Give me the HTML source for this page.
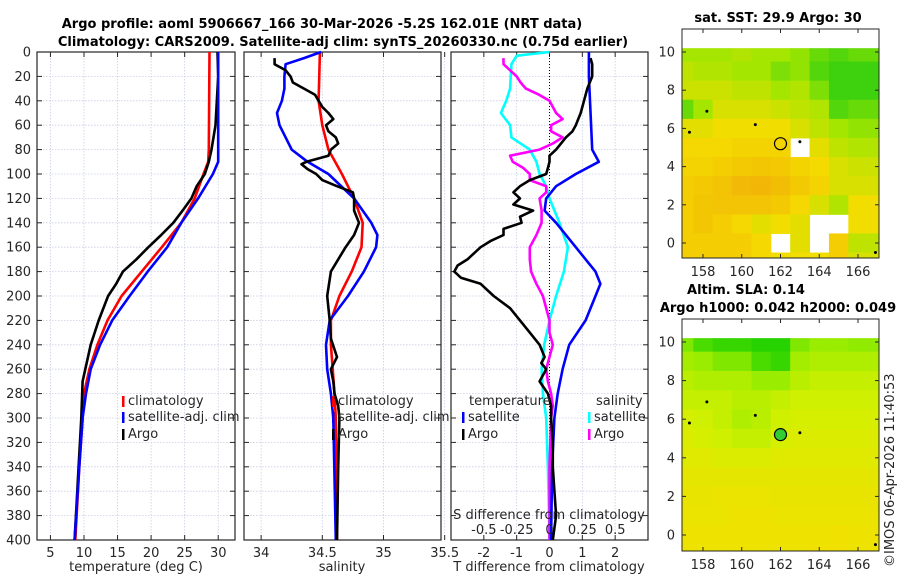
<!DOCTYPE html>
<html><head><meta charset="utf-8">
<style>
body{margin:0;background:#fff;}
svg{display:block;font-family:"DejaVu Sans","Liberation Sans",sans-serif;}
.t{font-size:13px;fill:#262626;}
.b{font-size:13px;font-weight:bold;fill:#000;}
</style></head>
<body>
<svg id="fig" width="900" height="580" viewBox="0 0 900 580" xmlns="http://www.w3.org/2000/svg">
<text class="b" x="322" y="28" text-anchor="middle">Argo profile: aoml 5906667_166 30-Mar-2026 -5.2S 162.01E (NRT data)</text>
<text class="b" x="343" y="46" text-anchor="middle">Climatology: CARS2009. Satellite-adj clim: synTS_20260330.nc (0.75d earlier)</text>
<text class="b" x="778" y="22" text-anchor="middle">sat. SST: 29.9 Argo: 30</text>
<text class="b" x="746" y="294" text-anchor="middle">Altim. SLA: 0.14</text>
<text class="b" x="778" y="312" text-anchor="middle">Argo h1000: 0.042 h2000: 0.049</text>
<text class="t" transform="translate(894,567) rotate(-90)">©IMOS 06-Apr-2026 11:40:53</text>
<g id="plots"></g>
</svg>
<script>
// ---- data ----
const tDepth=[0,80,90,100,120,140,160,180,200,220,240,260,280,300,340,400];
const tClim=[28.7,28.6,28.5,27.8,26.5,24.5,21.6,18.6,15.6,13.5,12,10.8,10,9.8,9.3,8.7];
const tSatDepth=[0,90,100,120,140,160,180,200,220,240,260,280,300,340,400];
const tSat=[30,30,29.2,27,24.5,22.4,19.5,16.8,14.2,12.4,11,10.3,9.8,9.3,8.6];
const tArgoDepth=[0,20,60,80,90,100,110,120,130,140,150,160,170,180,190,200,220,240,260,270,300,340,400];
const tArgo=[29.9,30,29.6,29.0,28.6,28,26.8,26,24.7,23.3,21.5,19.6,17.8,15.8,14.8,13.6,12.2,11,10.2,9.8,9.6,9.2,8.6];
const sClimDepth=[0,40,60,80,100,120,140,160,180,200,220,240,280,300,400];
const sClim=[34.48,34.47,34.5,34.55,34.66,34.76,34.83,34.82,34.74,34.64,34.57,34.57,34.6,34.61,34.62];
const sSatDepth=[0,5,10,20,30,40,50,60,80,90,100,120,140,150,160,180,200,220,240,260,280,300,400];
const sSat=[34.49,34.35,34.2,34.19,34.19,34.17,34.13,34.15,34.25,34.38,34.55,34.76,34.9,34.95,34.94,34.84,34.71,34.56,34.53,34.54,34.57,34.59,34.61];
const sArgoDepth=[5,10,15,20,25,30,35,40,45,50,55,60,65,70,75,80,85,90,92,96,100,105,110,115,120,125,130,140,150,160,170,180,200,220,235,250,260,270,280,290,300,340,400];
const sArgo=[34.11,34.11,34.2,34.24,34.26,34.35,34.44,34.47,34.5,34.55,34.59,34.53,34.55,34.61,34.63,34.57,34.55,34.37,34.33,34.38,34.45,34.5,34.62,34.75,34.76,34.76,34.76,34.8,34.76,34.69,34.63,34.57,34.54,34.56,34.57,34.62,34.57,34.59,34.6,34.63,34.64,34.63,34.62];
const dtSatDepth=[0,20,80,90,100,110,120,130,140,160,180,190,200,220,240,260,280,300,340,400];
const dtSat=[1.2,1.2,1.3,1.5,0.8,0.2,-0.1,-0.15,0.2,0.8,1.4,1.55,1.4,1.1,0.6,0.4,0.25,0.15,0.08,0.05];
const dtArgoDepth=[5,10,20,30,40,50,60,65,70,80,85,90,95,100,105,110,115,120,125,130,135,140,145,150,155,160,165,170,175,180,185,190,200,210,220,230,240,250,255,260,270,280,290,300,320,340,360,380,400];
const dtArgo=[1.25,1.3,1.3,1.15,1.05,0.95,0.8,0.7,0.5,0.2,0,0,-0.05,-0.1,-0.6,-0.9,-1.1,-0.9,-1.1,-0.5,-0.9,-0.85,-1.4,-1.4,-1.8,-2.1,-2.3,-2.5,-2.8,-2.9,-2.7,-2.1,-1.7,-1.2,-0.9,-0.6,-0.3,-0.15,-0.25,-0.1,-0.3,-0.05,0.05,0.05,0.1,0.1,0.15,0.2,0.1];
const dsSatDepth=[0,3,10,30,40,50,60,70,80,90,100,110,120,140,160,180,200,220,240,260,280,300,340,400];
const dsSat=[0,-0.25,-0.29,-0.3,-0.33,-0.37,-0.3,-0.29,-0.15,-0.1,-0.075,-0.025,0,0.075,0.14,0.11,0.05,0,-0.04,-0.06,-0.05,-0.025,-0.012,0];
const dsArgoDepth=[5,10,15,20,25,30,35,40,45,50,55,60,65,70,75,80,85,90,95,100,105,110,115,120,130,140,150,160,170,180,190,200,220,230,240,250,260,270,280,290,300,340,400];
const dsArgo=[-0.35,-0.35,-0.3,-0.25,-0.22,-0.18,-0.08,0,0.025,0.05,0.1,0.012,0.012,0.1,0.025,-0.075,-0.3,-0.28,-0.2,-0.15,-0.15,-0.025,-0.025,-0.075,-0.06,-0.06,-0.1,-0.15,-0.15,-0.14,-0.1,-0.05,0,0,0.025,0,-0.025,-0.012,0.012,0.025,0.012,0,0];
const depthTicks=[0,20,40,60,80,100,120,140,160,180,200,220,240,260,280,300,320,340,360,380,400];
const tTicks=[5,10,15,20,25,30];
const sTicks=[34,34.5,35,35.5];
const sTickLabels=["34","34.5","35","35.5"];
const dTicks=[-2,-1,0,1,2];
const dsTicks=[-0.5,-0.25,0,0.25,0.5];
const dsTickLabels=["-0.5","-0.25","0","0.25","0.5"];
// map data (lat rows 10 -> -1, lon cols 157..166); -1 = missing
const mapLons=[157,158,159,160,161,162,163,164,165,166];
const mapLats=[10,9,8,7,6,5,4,3,2,1,0,-1];
const sstGrid=[
[0.35,0.35,0.35,0.4,0.35,0.35,0.3,0.2,0.15,0.2],
[0.45,0.4,0.4,0.35,0.35,0.25,0.3,0.15,0.1,0.1],
[0.5,0.5,0.5,0.45,0.45,0.35,0.4,0.25,0.1,0.1],
[0.2,0.35,0.55,0.55,0.55,0.5,0.45,0.4,0.15,0.2],
[0.6,0.6,0.65,0.65,0.65,0.65,0.55,0.45,0.35,0.3],
[0.7,0.7,0.7,0.72,0.72,0.72,-1,0.6,0.45,0.4],
[0.72,0.72,0.75,0.78,0.8,0.78,0.72,0.68,0.55,0.5],
[0.75,0.78,0.82,0.88,0.9,0.85,0.78,0.72,0.55,0.55],
[0.75,0.8,0.82,0.82,0.82,0.78,0.7,0.55,0.4,0.65],
[0.75,0.8,0.75,0.7,0.6,0.65,0.6,-1,-1,0.65],
[0.75,0.75,0.75,0.75,0.7,-1,0.6,-1,0.75,0.45],
[0.75,0.75,0.75,0.75,0.7,0.65,0.65,0.65,0.75,0.55]];
const slaGrid=[
[0.3,0.15,0.1,0.1,0.05,0.05,0.3,0.4,0.4,0.35],
[0.45,0.4,0.3,0.3,0.15,0.1,0.45,0.5,0.5,0.5],
[0.55,0.5,0.5,0.5,0.4,0.4,0.55,0.6,0.6,0.6],
[0.6,0.6,0.6,0.55,0.55,0.6,0.65,0.65,0.65,0.65],
[0.7,0.65,0.6,0.5,0.55,0.65,0.7,0.7,0.7,0.7],
[0.75,0.7,0.65,0.6,0.6,0.7,0.75,0.75,0.75,0.75],
[0.8,0.8,0.75,0.75,0.75,0.8,0.8,0.8,0.8,0.8],
[0.85,0.85,0.85,0.85,0.85,0.85,0.85,0.85,0.85,0.85],
[0.88,0.88,0.9,0.9,0.9,0.88,0.88,0.88,0.88,0.88],
[0.9,0.9,0.9,0.92,0.92,0.9,0.9,0.9,0.9,0.9],
[0.92,0.92,0.92,0.92,0.92,0.92,0.92,0.92,0.95,0.92],
[0.92,0.92,0.92,0.92,0.92,0.92,0.92,0.95,0.95,0.92]];
const mapXTicks=[158,160,162,164,166];
const mapYTicks=[0,2,4,6,8,10];
const argoLon=162.0, argoLat=5.2;

const NS='http://www.w3.org/2000/svg';
const root=document.getElementById('plots');
function el(tag,attrs,parent,txt){const e=document.createElementNS(NS,tag);for(const k in attrs)e.setAttribute(k,attrs[k]);if(txt!==undefined)e.textContent=txt;(parent||root).appendChild(e);return e;}
const Y0=52,Y1=540;
const yD=d=>Y0+(d/400)*(Y1-Y0);

function panel(name,x0,x1,dom,ticks,labels){
  const g=el('g',{});
  
  
  const xs=v=>x0+(v-dom[0])/(dom[1]-dom[0])*(x1-x0);
  ticks.forEach(v=>{const l=el('line',{x1:xs(v),x2:xs(v),y1:Y0,y2:Y1,stroke:'#c9cde6','stroke-width':0.8,'stroke-dasharray':'1.5,1.5'},g);
    });
  depthTicks.forEach(d=>{const l=el('line',{x1:x0,x2:x1,y1:yD(d),y2:yD(d),stroke:'#c9cde6','stroke-width':0.8,'stroke-dasharray':'1.5,1.5'},g);
    
    el('line',{x1:x0,x2:x0+5,y1:yD(d),y2:yD(d),stroke:'#262626'},g);el('line',{x1:x1,x2:x1-5,y1:yD(d),y2:yD(d),stroke:'#262626'},g);});
  ticks.forEach((v,i)=>{el('line',{x1:xs(v),x2:xs(v),y1:Y1,y2:Y1-5,stroke:'#262626'},g);el('line',{x1:xs(v),x2:xs(v),y1:Y0,y2:Y0+5,stroke:'#262626'},g);
    if(labels){const t=el('text',{x:xs(v),y:Y1+17,class:'t','text-anchor':'middle'},g,labels[i]);
    }});
  const b=el('rect',{x:x0,y:Y0,width:x1-x0,height:Y1-Y0,fill:'none',stroke:'#262626','stroke-width':1.2},g);
  
  return {g,xs};
}
function line(p,xsF,vals,depths,color,name){
  const pts=vals.map((v,i)=>xsF(v).toFixed(1)+','+yD(depths[i]).toFixed(1)).join(' ');
  const l=el('polyline',{points:pts,fill:'none',stroke:color,'stroke-width':2.6,'stroke-linejoin':'round'},p.g);
  
  
}
function legendEntry(g,x,y,color,txt){
  const m=el('rect',{x:x,y:y-9,width:2.5,height:11,fill:color},g);
  
  const t=el('text',{x:x+6,y:y,class:'t'},g,txt);
  
}
depthTicks.forEach(d=>{const t=el('text',{x:31,y:yD(d)+4.5,class:'t','text-anchor':'end'},root,String(d));
  });

const p1=panel('temperature-panel',37,235,[3,32.5],tTicks,tTicks.map(String));
line(p1,p1.xs,tClim,tDepth,'#f00','temp-climatology-line');
line(p1,p1.xs,tArgo,tArgoDepth,'#000','temp-argo-line');
line(p1,p1.xs,tSat,tSatDepth,'#00f','temp-satellite-line');
legendEntry(p1.g,122,405,'#f00','climatology');
legendEntry(p1.g,122,421,'#00f','satellite-adj. clim');
legendEntry(p1.g,122,438,'#000','Argo');
let xl=el('text',{x:136,y:571,class:'t','text-anchor':'middle'},root,'temperature (deg C)');


const p2=panel('salinity-panel',244,441,[33.86,35.47],sTicks,sTickLabels);
line(p2,p2.xs,sClim,sClimDepth,'#f00','sal-climatology-line');
line(p2,p2.xs,sSat,sSatDepth,'#00f','sal-satellite-line');
line(p2,p2.xs,sArgo,sArgoDepth,'#000','sal-argo-line');
legendEntry(p2.g,332,405,'#f00','climatology');
legendEntry(p2.g,332,421,'#00f','satellite-adj. clim');
legendEntry(p2.g,332,438,'#000','Argo');
xl=el('text',{x:342,y:571,class:'t','text-anchor':'middle'},root,'salinity');


const p3=panel('difference-panel',451,648,[-3,3],dTicks,dTicks.map(String));
const xsS=v=>p3.xs(v*4);
const zl=el('line',{x1:p3.xs(0),x2:p3.xs(0),y1:Y0,y2:Y1,stroke:'#000','stroke-width':1,'stroke-dasharray':'1,2'},p3.g);

line(p3,xsS,dsSat,dsSatDepth,'#0ff','sdiff-satellite-line');
line(p3,xsS,dsArgo,dsArgoDepth,'#f0f','sdiff-argo-line');
line(p3,p3.xs,dtSat,dtSatDepth,'#00f','tdiff-satellite-line');
line(p3,p3.xs,dtArgo,dtArgoDepth,'#000','tdiff-argo-line');
let lt=el('text',{x:469,y:405,class:'t'},p3.g,'temperature');
lt=el('text',{x:596,y:405,class:'t'},p3.g,'salinity');
legendEntry(p3.g,462,421,'#00f','satellite');
legendEntry(p3.g,462,438,'#000','Argo');
legendEntry(p3.g,588,421,'#0ff','satellite');
legendEntry(p3.g,588,438,'#f0f','Argo');
lt=el('text',{x:549,y:519,class:'t','text-anchor':'middle'},p3.g,'S difference from climatology');
dsTicks.forEach((v,i)=>{const t=el('text',{x:xsS(v),y:534,class:'t','text-anchor':'middle'},p3.g,dsTickLabels[i]);
  });
xl=el('text',{x:549,y:571,class:'t','text-anchor':'middle'},root,'T difference from climatology');


function lerp(a,b,t){return a.map((v,i)=>Math.round(v+(b[i]-v)*t));}
function sstColor(v){const s=[[20,200,20],[160,230,0],[245,220,0],[240,165,10]];const f=v*3,i=Math.min(2,Math.floor(f));return 'rgb('+lerp(s[i],s[i+1],f-i)+')';}
function slaColor(v){const s=[[20,205,0],[140,235,0],[210,240,0],[245,222,0]];const f=v*3,i=Math.min(2,Math.floor(f));return 'rgb('+lerp(s[i],s[i+1],f-i)+')';}
function drawMap(name,grid,colorF,top,bottom,lat10y,lat0y,filled){
  const g=el('g',{});
  
  
  const L=682,R=879;
  const xs=lon=>703+(lon-158)*(858-703)/8;
  const ys=lat=>lat0y+(lat)*(lat10y-lat0y)/10;
  el('rect',{x:L,y:top,width:R-L,height:bottom-top,fill:'#fff'},g);
  grid.forEach((row,ri)=>row.forEach((v,ci)=>{
    if(v<0)return;
    const lon=mapLons[ci],lat=mapLats[ri];
    const x0=ci===0?L:xs(lon-0.5),x1=ci===row.length-1?R:xs(lon+0.5);
    const y0=Math.max(ys(10.2),ys(lat+0.5)),y1=Math.min(bottom,ys(lat-0.5));
    if(y1<=y0)return;
    const c=el('rect',{x:x0,y:y0,width:x1-x0+0.5,height:y1-y0+0.5,fill:colorF(v)},g);
    
  }));
  [[158.2,6.9],[157.3,5.8],[160.7,6.2],[163,5.3],[166.9,-0.5]].forEach(p=>el('circle',{cx:xs(p[0]),cy:ys(p[1]),r:1.5,fill:'#000'},g));
  const m=el('circle',{cx:xs(argoLon),cy:ys(argoLat),r:6,fill:filled?'#3c3':'none',stroke:'#000','stroke-width':1.2},g);
  
  const f=el('rect',{x:L,y:top,width:R-L,height:bottom-top,fill:'none',stroke:'#262626'},g);
  
  mapXTicks.forEach(v=>{el('line',{x1:xs(v),x2:xs(v),y1:bottom,y2:bottom-4,stroke:'#262626'},g);el('line',{x1:xs(v),x2:xs(v),y1:top,y2:top+4,stroke:'#262626'},g);
    const t=el('text',{x:xs(v),y:bottom+18,class:'t','text-anchor':'middle'},g,String(v));});
  mapYTicks.forEach(v=>{el('line',{x1:L,x2:L+4,y1:ys(v),y2:ys(v),stroke:'#262626'},g);el('line',{x1:R,x2:R-4,y1:ys(v),y2:ys(v),stroke:'#262626'},g);
    const t=el('text',{x:L-7,y:ys(v)+4.5,class:'t','text-anchor':'end'},g,String(v));});
}
drawMap('sst-map',sstGrid,sstColor,29,258,52,243,false);
drawMap('sla-map',slaGrid,slaColor,319,551,342,535,true);
</script>
</body></html>
